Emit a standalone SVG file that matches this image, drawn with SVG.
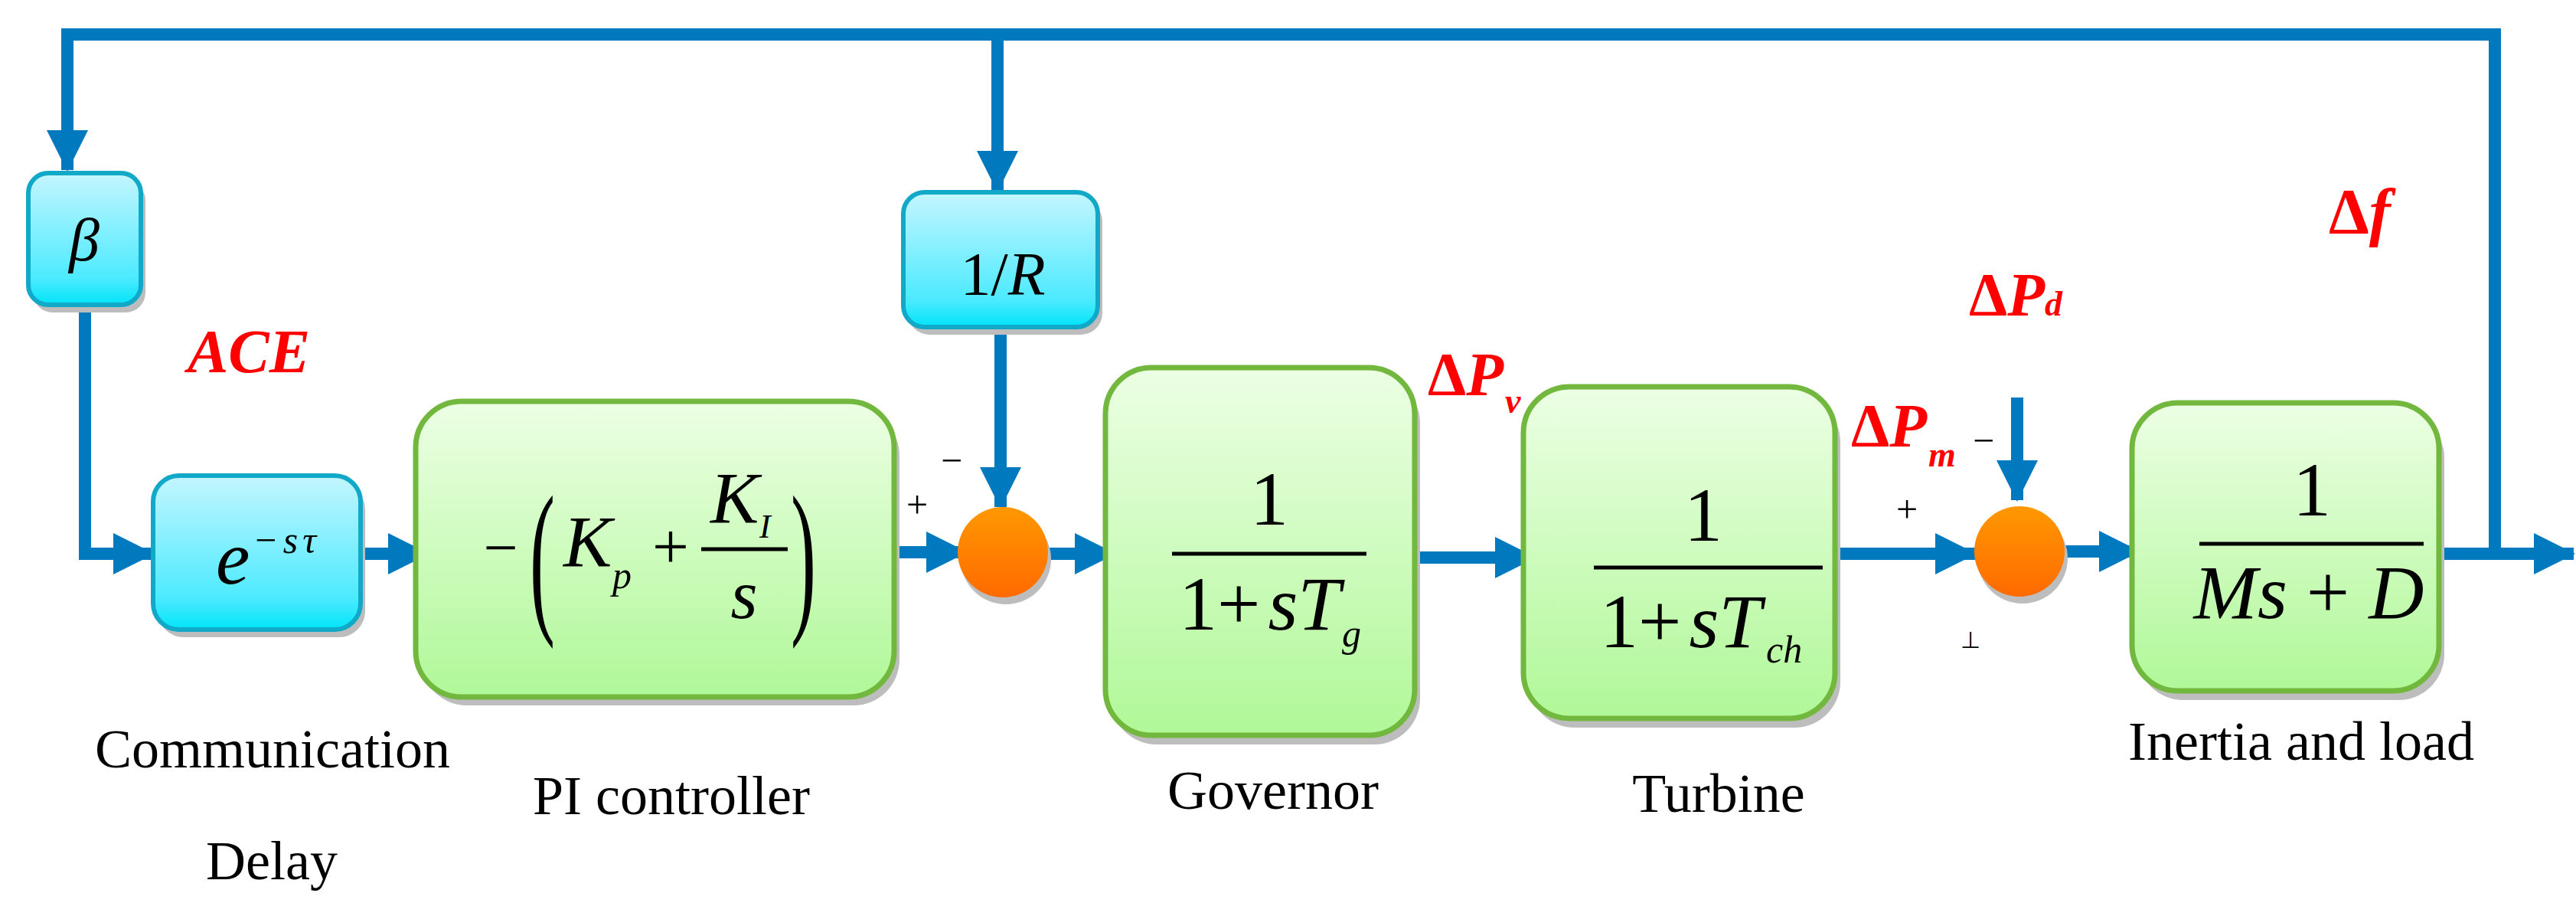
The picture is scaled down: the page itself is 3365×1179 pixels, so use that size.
<svg xmlns="http://www.w3.org/2000/svg" width="3365" height="1179" viewBox="0 0 3365 1179">
<defs>
<linearGradient id="gc" x1="0" y1="0" x2="0" y2="1"><stop offset="0" stop-color="#c4f6ff"/><stop offset="0.8" stop-color="#4ceaff"/><stop offset="1" stop-color="#00e4f8"/></linearGradient>
<linearGradient id="gg" x1="0" y1="0" x2="0" y2="1"><stop offset="0" stop-color="#ecffe4"/><stop offset="1" stop-color="#b0f898"/></linearGradient>
<linearGradient id="go" x1="0" y1="0" x2="0" y2="1"><stop offset="0" stop-color="#ff9800"/><stop offset="1" stop-color="#ff6a00"/></linearGradient>
<marker id="ah" markerUnits="userSpaceOnUse" markerWidth="56" markerHeight="54" refX="52" refY="27" orient="auto"><path d="M0,0 L54,27 L0,54 Z" fill="#0079bf"/></marker>
</defs>
<style>
.ln{fill:none;stroke:#0079bf;stroke-width:16}
.cy{fill:url(#gc);stroke:#12a9c9;stroke-width:6}
.gr{fill:url(#gg);stroke:#72b83e;stroke-width:7}
.sh{fill:#bdbdbd}
text{font-family:"Liberation Serif","Times New Roman",serif}
.m{fill:#000}
.i{font-style:italic}
.r{fill:#ff0000;font-weight:bold;font-style:italic}
.lb{font-size:72px;fill:#000}
</style>
<g id="connectors">
<polyline class="ln" points="3259,718 3259,45 88,45 88,222" marker-end="url(#ah)"/>
<polyline class="ln" points="1303,45 1303,249" marker-end="url(#ah)"/>
<polyline class="ln" points="111,398 111,723 200,723" marker-end="url(#ah)"/>
<line class="ln" x1="471" y1="723" x2="559" y2="723" marker-end="url(#ah)"/>
<line class="ln" x1="1160" y1="721" x2="1262" y2="721" marker-end="url(#ah)"/>
<line class="ln" x1="1307" y1="427" x2="1307" y2="662" marker-end="url(#ah)"/>
<line class="ln" x1="1360" y1="723" x2="1456" y2="723" marker-end="url(#ah)"/>
<line class="ln" x1="1848" y1="728" x2="2005" y2="728" marker-end="url(#ah)"/>
<line class="ln" x1="2397" y1="723" x2="2580" y2="723" marker-end="url(#ah)"/>
<line class="ln" x1="2635" y1="519" x2="2635" y2="653" marker-end="url(#ah)"/>
<line class="ln" x1="2690" y1="720" x2="2794" y2="720" marker-end="url(#ah)"/>
<line class="ln" x1="3186" y1="723" x2="3362" y2="723" marker-end="url(#ah)"/>
</g>
<g id="beta">
<rect class="sh" x="43" y="236" width="147" height="172" rx="26"/>
<rect class="cy" x="37" y="226" width="147" height="172" rx="26"/>
<text class="m i" x="110" y="340" font-size="80" text-anchor="middle">β</text>
</g>
<g id="delay">
<rect class="sh" x="206" y="631" width="271" height="201" rx="34"/>
<rect class="cy" x="200" y="621" width="271" height="201" rx="34"/>
<text class="m i" x="282" y="762" font-size="100">e</text>
<text class="m i" x="330" y="722" font-size="50" letter-spacing="6">−sτ</text>
</g>
<g id="pi">
<rect class="sh" x="550" y="535" width="625" height="386" rx="60"/>
<rect class="gr" x="543" y="524" width="625" height="386" rx="60"/>
<text class="m" x="654" y="742" font-size="80" text-anchor="middle">−</text>
<text class="m" x="692" y="800" font-size="220" transform="scale(0.45,1)" transform-origin="692 800">(</text>
<text class="m i" x="736" y="740" font-size="95">K</text>
<text class="m i" x="800" y="768" font-size="50">p</text>
<text class="m" x="876" y="742" font-size="85" text-anchor="middle">+</text>
<line x1="916" y1="717" x2="1029" y2="717" stroke="#000" stroke-width="5"/>
<text class="m i" x="928" y="683" font-size="95">K</text>
<text class="m i" x="992" y="702" font-size="44">I</text>
<text class="m i" x="972" y="807" font-size="90" text-anchor="middle">s</text>
<text class="m" x="1033" y="800" font-size="220" transform="scale(0.45,1)" transform-origin="1033 800">)</text>
</g>
<g id="recip-r">
<rect class="sh" x="1186" y="261" width="254" height="176" rx="28"/>
<rect class="cy" x="1180" y="251" width="254" height="176" rx="28"/>
<text class="m" x="1310" y="385" font-size="80" text-anchor="middle">1/<tspan class="i">R</tspan></text>
</g>
<g id="sum1">
<circle cx="1314" cy="730" r="59" class="sh"/>
<circle cx="1310" cy="721" r="59" fill="url(#go)"/>
<text class="m" x="1198" y="676" font-size="50" text-anchor="middle">+</text>
<text class="m" x="1243" y="618" font-size="50" text-anchor="middle">−</text>
</g>
<g id="governor">
<rect class="sh" x="1451" y="492" width="404" height="480" rx="60"/>
<rect class="gr" x="1444" y="480" width="404" height="480" rx="60"/>
<text class="m" x="1658" y="685" font-size="100" text-anchor="middle">1</text>
<line x1="1531" y1="723" x2="1785" y2="723" stroke="#000" stroke-width="5"/>
<text class="m" x="1540" y="822" font-size="100">1+<tspan class="i" dx="10">sT</tspan><tspan class="i" font-size="50" dx="2" dy="22">g</tspan></text>
<text class="lb" x="1663" y="1056" text-anchor="middle">Governor</text>
</g>
<g id="turbine">
<rect class="sh" x="1997" y="517" width="407" height="433" rx="60"/>
<rect class="gr" x="1990" y="505" width="407" height="433" rx="60"/>
<text class="m" x="2225" y="706" font-size="100" text-anchor="middle">1</text>
<line x1="2082" y1="741" x2="2381" y2="741" stroke="#000" stroke-width="5"/>
<text class="m" x="2090" y="845" font-size="100">1+<tspan class="i" dx="10">sT</tspan><tspan class="i" font-size="50" dx="6" dy="20">ch</tspan></text>
<text class="lb" x="2245" y="1060" text-anchor="middle">Turbine</text>
</g>
<g id="sum2">
<circle cx="2642" cy="729" r="59" class="sh"/>
<circle cx="2638" cy="720" r="59" fill="url(#go)"/>
<text class="m" x="2491" y="682" font-size="50" text-anchor="middle">+</text>
<text class="m" x="2591" y="592" font-size="50" text-anchor="middle">−</text>
<text class="m" x="2574" y="846" font-size="30" text-anchor="middle">⊥</text>
</g>
<g id="inertia">
<rect class="sh" x="2792" y="538" width="401" height="376" rx="60"/>
<rect class="gr" x="2785" y="526" width="401" height="376" rx="60"/>
<text class="m" x="3020" y="673" font-size="100" text-anchor="middle">1</text>
<line x1="2873" y1="710" x2="3166" y2="710" stroke="#000" stroke-width="5"/>
<text class="m i" x="3016" y="807" font-size="100" text-anchor="middle">Ms<tspan font-style="normal"> + </tspan>D</text>
<text class="lb" x="3006" y="992" text-anchor="middle">Inertia and load</text>
</g>
<g id="labels">
<text class="r" x="245" y="486" font-size="80">ACE</text>
<text class="lb" x="356" y="1002" text-anchor="middle">Communication</text>
<text class="lb" x="355" y="1148" text-anchor="middle">Delay</text>
<text class="lb" x="877" y="1063" text-anchor="middle">PI controller</text>
<text class="r" x="1865" y="516" font-size="80"><tspan font-style="normal">Δ</tspan>P<tspan font-size="46" dx="2" dy="23">v</tspan></text>
<text class="r" x="2418" y="583" font-size="80"><tspan font-style="normal">Δ</tspan>P<tspan font-size="46" dx="2" dy="26">m</tspan></text>
<text class="r" x="2572" y="412" font-size="80"><tspan font-style="normal">Δ</tspan>P<tspan font-size="46">d</tspan></text>
<text class="r" x="3042" y="305" font-size="84"><tspan font-style="normal">Δ</tspan>f</text>
</g>
</svg>
